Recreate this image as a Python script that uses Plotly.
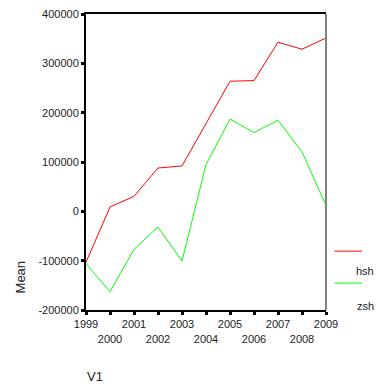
import plotly.graph_objects as go

years = [1999, 2000, 2001, 2002, 2003, 2004, 2005, 2006, 2007, 2008, 2009]
hsh = [-103000, 8700, 30400, 87800, 92000, 178000, 263700, 265000, 342800, 328600, 351500]
zsh = [-106000, -163000, -77000, -31800, -100800, 94700, 187000, 159600, 184600, 120300, 12200]
series_names = ["hsh", "zsh"]
series_colors = ["#ff0000", "#00ff00"]
y_ticks = [-200000, -100000, 0, 100000, 200000, 300000, 400000]
y_tick_text = [str(v) for v in y_ticks]

tick_text = [str(y) if i % 2 == 0 else "<br>" + str(y) for i, y in enumerate(years)]

fig = go.Figure()
for name, vals, col in zip(series_names, [hsh, zsh], series_colors):
    fig.add_trace(go.Scatter(x=years, y=vals, mode="lines", name=name,
                             line=dict(color=col, width=1), showlegend=False))

fig.update_layout(
    width=377, height=385,
    margin=dict(l=86, r=51, t=14, b=75),
    paper_bgcolor="white", plot_bgcolor="white",
    font=dict(family="Liberation Sans, Arial, sans-serif", size=11, color="#222"),
    xaxis=dict(range=[1999, 2009], tickvals=years, ticktext=tick_text, tickangle=0,
               automargin=False, ticklabeloverflow="allow",
               showgrid=False, zeroline=False, showline=True, linecolor="black",
               linewidth=2, mirror=True, ticks="outside", ticklen=3, tickwidth=3,
               tickcolor="black", tickfont=dict(size=11)),
    yaxis=dict(range=[-200000, 400000], tickvals=y_ticks, ticktext=y_tick_text,
               automargin=False, ticklabeloverflow="allow",
               showgrid=False, zeroline=False, showline=True, linecolor="black",
               linewidth=2, ticks="outside", ticklen=3, tickwidth=3,
               tickcolor="black", tickfont=dict(size=11)),
    shapes=[
        dict(type="line", xref="paper", yref="paper", x0=1, x1=1, y0=0, y1=1,
             line=dict(color="#808080", width=2)),
        dict(type="line", xref="paper", yref="paper", x0=1.035, x1=1.15,
             y0=0.199, y1=0.199, line=dict(color=series_colors[0], width=1)),
        dict(type="line", xref="paper", yref="paper", x0=1.035, x1=1.15,
             y0=0.091, y1=0.091, line=dict(color=series_colors[1], width=1)),
    ],
    annotations=[
        dict(text=series_names[0], xref="paper", yref="paper", x=1.208, y=0.132,
             showarrow=False, xanchor="right", yanchor="middle", font=dict(size=11)),
        dict(text=series_names[1], xref="paper", yref="paper", x=1.208, y=0.015,
             showarrow=False, xanchor="right", yanchor="middle", font=dict(size=11)),
        dict(text="Mean", xref="paper", yref="paper", x=-0.275, y=0.11,
             textangle=-90, showarrow=False, xanchor="center", yanchor="middle",
             font=dict(size=13)),
        dict(text="V1", xref="paper", yref="paper", x=0.0375, y=-0.223,
             showarrow=False, xanchor="center", yanchor="middle", font=dict(size=13)),
    ],
)
fig.write_html("out.html", config={"displayModeBar": False},
               post_script="document.body.style.margin='0';document.body.style.overflow='hidden';")
